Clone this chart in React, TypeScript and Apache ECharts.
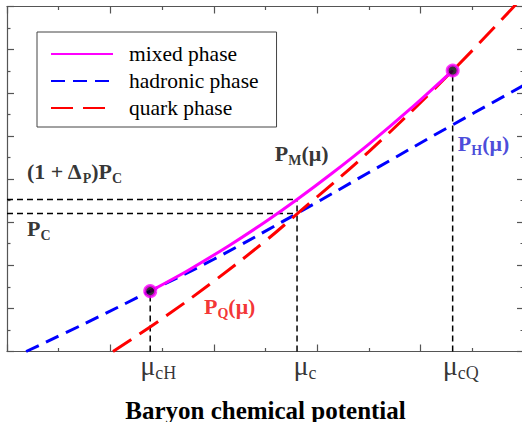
import React, { useEffect, useRef } from "react";
import * as echarts from "echarts";

// (axis units: x 0..10, y 0..16)
const hadronicX = [0.37, 1.5, 2.77, 4.0, 5.61, 7.0, 8.61, 10.0];
const hadronicY = [0, 1.29, 2.8, 4.28, 6.4, 8.3, 10.5, 12.35];
const quarkX = [2.05, 3.0, 4.0, 5.0, 5.61, 7.0, 8.62, 10.0];
const quarkY = [0, 1.52, 3.26, 5.13, 6.38, 9.27, 13.03, 16.5];
const mixedX = [2.77, 3.5, 4.3, 5.0, 5.61, 6.3, 7.0, 7.8, 8.62];
const mixedY = [2.8, 3.76, 4.92, 6.02, 7.05, 8.29, 9.62, 11.25, 13.03];

const muCH = 2.77;
const muC = 5.61;
const muCQ = 8.62;
const pC = 6.4;
const pCDelta = 7.05;
const pAtCH = 2.8;
const pAtCQ = 13.03;

const legendNames = ["mixed phase", "hadronic phase", "quark phase"];
const tickLabels = [
  { x: muCH, sub: "cH" },
  { x: muC, sub: "c" },
  { x: muCQ, sub: "cQ" },
];

const SERIF = "'Liberation Serif', 'Times New Roman', serif";

export default function App() {
  const ref = useRef<HTMLDivElement>(null);
  useEffect(() => {
    const chart = echarts.init(ref.current!, null, { renderer: "svg" });
    const zip = (xs: number[], ys: number[]) => xs.map((x, i) => [x, ys[i]]);
    const frame = { color: "#555", width: 1.2 };
    const mkX = (position: string) => ({
      type: "value",
      position,
      min: 0,
      max: 10,
      interval: 2,
      axisLine: { show: true, onZero: false, lineStyle: frame },
      axisTick: { show: true, inside: true, length: 7, lineStyle: frame },
      minorTick: { show: true, splitNumber: 2, length: 3.5, lineStyle: frame },
      axisLabel: { show: false },
      splitLine: { show: false },
      minorSplitLine: { show: false },
    });
    const mkY = (position: string) => ({
      type: "value",
      position,
      min: 0,
      max: 16,
      interval: 2,
      axisLine: { show: true, onZero: false, lineStyle: frame },
      axisTick: { show: true, inside: true, length: 7, lineStyle: frame },
      minorTick: { show: true, splitNumber: 2, length: 3.5, lineStyle: frame },
      axisLabel: { show: false },
      splitLine: { show: false },
      minorSplitLine: { show: false },
    });
    const refLine = (pts: number[][]) => ({
      type: "line",
      data: pts,
      symbol: "none",
      silent: true,
      z: 1,
      lineStyle: { color: "#000", width: 1.5, type: [6, 4] },
    });
    const bold = (size: number, color: string) => ({
      fontSize: size,
      fontWeight: "bold",
      fontFamily: SERIF,
      color,
      verticalAlign: "top",
    });
    const sub = (size: number, color: string, pad: number) => ({
      ...bold(size, color),
      padding: [pad, 0, 0, 0],
    });
    const richFor = (color: string) => ({
      b: bold(22, color),
      s: sub(14, color, 11),
    });
    const textPoint = (x: number, y: number, formatter: string, color: string) => ({
      value: [x, y],
      label: {
        show: true,
        position: "right",
        distance: 0,
        formatter,
        rich: richFor(color),
      },
    });

    chart.setOption({
      animation: false,
      grid: {
        left: 7,
        top: 6.5,
        width: 517,
        height: 345,
        containLabel: false,
        outerBoundsMode: "none",
      },
      xAxis: [
        {
          ...mkX("bottom"),
          name: "Baryon chemical potential",
          nameLocation: "middle",
          nameGap: 46,
          nameTextStyle: {
            fontFamily: SERIF,
            fontWeight: "bold",
            fontSize: 25,
            color: "#000",
          },
        },
        mkX("top"),
      ],
      yAxis: [mkY("left"), mkY("right")],
      legend: {
        data: legendNames,
        left: 37,
        top: 32,
        orient: "vertical",
        padding: [11, 18, 8, 13],
        itemWidth: 62,
        itemHeight: 14,
        itemGap: 5,
        borderColor: "#444",
        borderWidth: 1,
        borderRadius: 0,
        itemStyle: { color: "transparent", borderWidth: 0, opacity: 0 },
        textStyle: {
          fontFamily: SERIF,
          fontSize: 21.5,
          lineHeight: 22,
          color: "#000",
          padding: [0, 0, 0, 11],
        },
      },
      series: [
        {
          name: "hadronic phase",
          type: "line",
          data: zip(hadronicX, hadronicY),
          smooth: 0.4,
          symbol: "none",
          z: 2,
          itemStyle: { color: "#0000ff" },
          lineStyle: { color: "#0000ff", width: 3, type: [14, 8] },
        },
        {
          name: "quark phase",
          type: "line",
          data: zip(quarkX, quarkY),
          smooth: 0.4,
          symbol: "none",
          z: 3,
          itemStyle: { color: "#ff0000" },
          lineStyle: { color: "#ff0000", width: 3, type: [22, 10] },
        },
        {
          name: "mixed phase",
          type: "line",
          data: zip(mixedX, mixedY),
          smooth: 0.3,
          symbol: "none",
          z: 4,
          itemStyle: { color: "#ff00ff" },
          lineStyle: { color: "#ff00ff", width: 3 },
        },
        refLine([[0, pCDelta], [muC, pCDelta]]),
        refLine([[0, pC], [muC, pC]]),
        refLine([[muCH, 0], [muCH, pAtCH]]),
        refLine([[muC, 0], [muC, pCDelta]]),
        refLine([[muCQ, 0], [muCQ, pAtCQ]]),
        {
          type: "scatter",
          data: [[muCH, pAtCH], [muCQ, pAtCQ]],
          symbolSize: 11,
          z: 6,
          itemStyle: { color: "#000", borderColor: "#ff00ff", borderWidth: 3 },
        },
        {
          type: "scatter",
          symbolSize: 0,
          silent: true,
          z: 7,
          data: [
            textPoint(0.387, 8.3, "{b|(1 + Δ}{s|P}{b|)P}{s|C}", "#000"),
            textPoint(0.387, 5.63, "{b|P}{s|C}", "#000"),
            textPoint(5.18, 9.1, "{b|P}{s|M}{b|(μ)}", "#000"),
            textPoint(8.72, 9.56, "{b|P}{s|H}{b|(μ)}", "#1c1cd0"),
            textPoint(3.81, 2.01, "{b|P}{s|Q}{b|(μ)}", "#f00000"),
          ],
        },
        {
          type: "scatter",
          symbolSize: 0,
          silent: true,
          z: 7,
          data: tickLabels.map((t) => ({
            value: [t.x, 0],
            label: {
              show: true,
              position: "bottom",
              distance: 0,
              offset: [8, 0],
              formatter: `{m|μ}{s|${t.sub}}`,
              rich: {
                m: { fontSize: 28, fontFamily: SERIF, color: "#000", verticalAlign: "top" },
                s: { fontSize: 18, fontFamily: SERIF, color: "#000", verticalAlign: "top", padding: [12, 0, 0, 0] },
              },
            },
          })),
        },
      ],
    });
    return () => chart.dispose();
  }, []);
  return (
    <div
      ref={ref}
      style={{ position: "fixed", left: 0, top: 0, width: 522, height: 422, background: "#fff" }}
    />
  );
}
